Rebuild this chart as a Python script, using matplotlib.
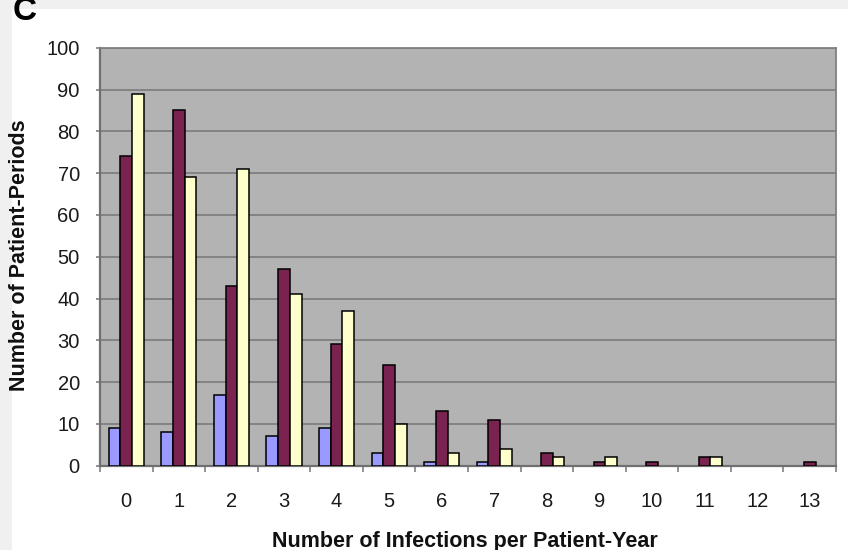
import matplotlib
matplotlib.use("Agg")
import matplotlib.pyplot as plt
import numpy as np
from matplotlib.patches import Rectangle

categories = [str(i) for i in range(14)]
series_blue = [9, 8, 17, 7, 9, 3, 1, 1, 0, 0, 0, 0, 0, 0]
series_purple = [74, 85, 43, 47, 29, 24, 13, 11, 3, 1, 1, 2, 0, 1]
series_yellow = [89, 69, 71, 41, 37, 10, 3, 4, 2, 2, 0, 2, 0, 0]
y_ticks = list(range(0, 101, 10))

plt.rcParams['font.family'] = ['Liberation Sans', 'DejaVu Sans']

W, H = 848, 550
fig = plt.figure(figsize=(W / 100, H / 100), dpi=100)
fig.patch.set_facecolor('white')

# outer light-gray strips (left and top)
fig.patches.append(Rectangle((0, 0), 12 / W, 1, transform=fig.transFigure,
                             facecolor='#f0f0f0', edgecolor='none', zorder=0))
fig.patches.append(Rectangle((0, 1 - 9 / H), 1, 9 / H, transform=fig.transFigure,
                             facecolor='#f0f0f0', edgecolor='none', zorder=0))

left, right = 100 / W, 836 / W
bottom, top = 1 - 465.7 / H, 1 - 47.7 / H
ax = fig.add_axes([left, bottom, right - left, top - bottom])
ax.set_facecolor('#b3b3b3')

x = np.arange(len(categories))
bw = 0.222
colors = ['#9999ff', '#7a2350', '#ffffcc']
for k, (vals, c) in enumerate(zip([series_blue, series_purple, series_yellow], colors)):
    vals = np.array(vals)
    m = vals > 0
    ax.bar(x[m] + (k - 1) * bw, vals[m], width=bw, color=c,
           edgecolor='black', linewidth=1.1, zorder=3)

ax.set_xlim(-0.5, len(categories) - 0.5)
ax.set_ylim(0, 100)
ax.set_yticks(y_ticks)
ax.set_yticklabels([str(v) for v in y_ticks])
ax.yaxis.grid(True, color='#808080', linewidth=1.3, zorder=1)
ax.set_axisbelow(True)

ax.set_xticks(x)
ax.set_xticklabels(categories)
ax.set_xticks(np.arange(-0.5, len(categories)), minor=True)
ax.tick_params(axis='x', which='major', length=0, pad=19, labelsize=14.5, labelcolor='#1a1a1a')
ax.tick_params(axis='x', which='minor', length=4, width=1.2, color='#808080', direction='out')
ax.tick_params(axis='y', which='major', length=3, width=1.2, color='#808080', direction='out',
               pad=11.5, labelsize=14.5, labelcolor='#1a1a1a')

for s in ['left', 'bottom']:
    ax.spines[s].set_color('#707070')
    ax.spines[s].set_linewidth(1.6)
for s in ['top', 'right']:
    ax.spines[s].set_color('#808080')
    ax.spines[s].set_linewidth(1.3)

fig.text(465 / W, 1 - 541 / H, 'Number of Infections per Patient-Year',
         ha='center', va='center', fontsize=15.5, fontweight='bold', color='#111111')
fig.text(19.5 / W, 1 - 255 / H, 'Number of Patient-Periods', rotation=90,
         ha='center', va='center', fontsize=15.5, fontweight='bold', color='#111111')

fig.text(13 / W, 1 - 20 / H, 'C', ha='left', va='baseline', fontsize=24,
         fontweight='bold', color='black')

fig.savefig('out.png', dpi=100)
